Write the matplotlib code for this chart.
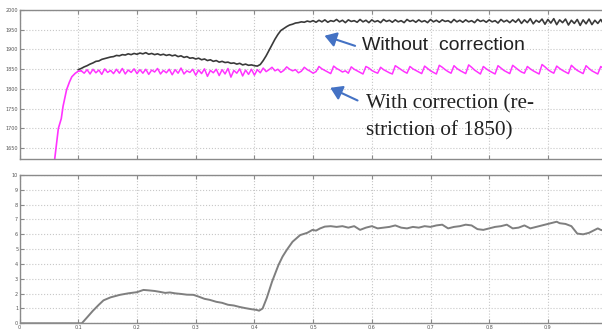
import numpy as np
import matplotlib
matplotlib.use("Agg")
import matplotlib.pyplot as plt

# ---- top panel: speed with / without correction ----
rise_t = [0.058, 0.066, 0.071, 0.074, 0.080, 0.085, 0.089, 0.095, 0.100, 0.105]
rise_v = [1600, 1700, 1725, 1756, 1798, 1818, 1831, 1840, 1845, 1846]

with_t0 = 0.105
with_corr = [
    1846, 1840, 1849, 1838, 1850, 1841, 1848, 1837, 1851, 1842,
    1847, 1839, 1850, 1840, 1852, 1838, 1848, 1842, 1851, 1839,
    1849, 1840, 1850, 1837, 1848, 1843, 1852, 1838, 1847, 1841,
    1850, 1836, 1849, 1840, 1853, 1838, 1846, 1842, 1850, 1835,
    1848, 1839, 1851, 1832, 1847, 1841, 1850, 1834, 1849, 1838,
    1852, 1830, 1847, 1840, 1851, 1833, 1848, 1837, 1850, 1835,
    1849, 1841, 1853, 1844, 1849, 1855, 1846, 1850, 1842, 1847,
    1856, 1850, 1846, 1849, 1841, 1845, 1855, 1849, 1845, 1840,
    1844, 1857, 1851, 1847, 1843, 1839, 1858, 1852, 1848, 1843,
    1846, 1840, 1856, 1850, 1846, 1842, 1838, 1857, 1853, 1847,
    1843, 1840, 1855, 1849, 1845, 1841, 1838, 1859, 1854, 1849,
    1844, 1840, 1857, 1851, 1847, 1843, 1839, 1858, 1852, 1846,
    1842, 1838, 1860, 1855, 1849, 1844, 1840, 1859, 1852, 1847,
    1843, 1839, 1861, 1855, 1848, 1843, 1838, 1857, 1851, 1846,
    1842, 1838, 1859, 1853, 1847, 1843, 1839, 1860, 1854, 1848,
    1843, 1840, 1857, 1851, 1846, 1842, 1838, 1862, 1856, 1849,
    1844, 1840, 1858, 1852, 1847, 1843, 1839, 1860, 1853, 1847,
    1843, 1839, 1859, 1852, 1846, 1842, 1838, 1857, 1851, 1846,
]

without_t0 = 0.100
without_corr = [
    1849, 1852, 1856, 1859, 1863, 1866, 1870, 1871, 1875, 1877,
    1879, 1881, 1882, 1885, 1884, 1887, 1886, 1889, 1887, 1890,
    1888, 1891, 1889, 1892, 1888, 1890, 1887, 1889, 1886, 1888,
    1885, 1887, 1884, 1886, 1882, 1884, 1880, 1882, 1878, 1879,
    1876, 1878, 1874, 1876, 1872, 1874, 1870, 1872, 1868, 1870,
    1867, 1868, 1865, 1866, 1863, 1865, 1861, 1863, 1860, 1861,
    1859, 1858, 1862, 1872, 1884, 1898, 1912, 1926, 1938, 1948,
    1953, 1958, 1962, 1964, 1967, 1968, 1970, 1969, 1972, 1970,
    1973, 1969, 1974, 1970, 1975, 1969, 1973, 1971, 1976, 1970,
    1974, 1968, 1975, 1971, 1973, 1969, 1976, 1970, 1974, 1968,
    1975, 1970, 1973, 1968, 1976, 1971, 1974, 1969, 1975, 1970,
    1973, 1968, 1976, 1971, 1974, 1969, 1975, 1970, 1973, 1968,
    1976, 1970, 1974, 1969, 1975, 1971, 1973, 1968, 1976, 1970,
    1974, 1969, 1975, 1970, 1973, 1968, 1976, 1971, 1974, 1969,
    1975, 1970, 1973, 1967, 1976, 1970, 1974, 1968, 1975, 1969,
    1977, 1966, 1975, 1968, 1978, 1965, 1974, 1969, 1977, 1964,
    1976, 1967, 1978, 1963, 1975, 1968, 1977, 1962, 1974, 1966,
    1976, 1961, 1975, 1965, 1977, 1963, 1974, 1966, 1976, 1964,
    1972,
]

# ---- bottom panel ----
low_t = [0, 0.106, 0.115, 0.125, 0.135, 0.143, 0.155, 0.171, 0.185, 0.2,
         0.211, 0.22, 0.23, 0.239, 0.248, 0.256, 0.265, 0.275, 0.285, 0.296,
         0.305, 0.315, 0.324, 0.335, 0.345, 0.355, 0.365, 0.375, 0.385, 0.395,
         0.404, 0.408, 0.414, 0.421, 0.43, 0.441, 0.448, 0.455, 0.465, 0.478,
         0.49, 0.499, 0.505, 0.512, 0.52, 0.53, 0.54, 0.55, 0.56, 0.57,
         0.58, 0.59, 0.60, 0.61, 0.62, 0.63, 0.64, 0.65, 0.66, 0.67,
         0.68, 0.69, 0.70, 0.71, 0.72, 0.73, 0.74, 0.75, 0.76, 0.77,
         0.78, 0.79, 0.80, 0.81, 0.82, 0.83, 0.84, 0.85, 0.86, 0.87,
         0.88, 0.89, 0.90, 0.91, 0.915, 0.92, 0.93, 0.94, 0.95, 0.96,
         0.97, 0.98, 0.985, 0.99, 1.0]
low_v = [0, 0, 0.4, 0.85, 1.25, 1.55, 1.75, 1.92, 2.02, 2.1,
         2.25, 2.22, 2.18, 2.12, 2.05, 2.08, 2.02, 1.98, 1.93, 1.92,
         1.8, 1.65, 1.58, 1.45, 1.38, 1.25, 1.2, 1.1, 1.02, 0.95,
         0.9, 0.85, 1.0, 1.7, 2.8, 3.93, 4.5, 4.94, 5.5, 5.95,
         6.1, 6.3, 6.25, 6.4, 6.52, 6.55, 6.5, 6.55, 6.45, 6.55,
         6.3, 6.45, 6.55, 6.4, 6.45, 6.5, 6.6, 6.45, 6.4, 6.5,
         6.45, 6.55, 6.5, 6.6, 6.65, 6.4, 6.5, 6.55, 6.65, 6.6,
         6.35, 6.3, 6.4, 6.5, 6.55, 6.65, 6.4, 6.45, 6.6, 6.4,
         6.5, 6.6, 6.7, 6.8, 6.85, 6.75, 6.7, 6.55, 6.05, 6.0,
         6.1, 6.3, 6.4, 6.3, 6.2]
low_ticklabels = ["0", "0.1", "0.2", "0.3", "0.4", "0.5", "0.6", "0.7", "0.8", "0.9", ""]

GRID = "#c8c8c8"
SPINE = "#8a8a8a"
TICKLAB = "#555555"


def style(ax):
    ax.set_xlim(0, 1)
    ax.set_xticks(np.arange(0, 1.01, 0.1))
    ax.grid(True, color=GRID, linestyle=":", lw=0.8)
    ax.tick_params(direction="in", length=3, top=True, right=True,
                   colors=SPINE, labelcolor=TICKLAB, labelsize=3.5, pad=1)
    for s in ax.spines.values():
        s.set_color(SPINE)
        s.set_linewidth(1.0)


fig = plt.figure(figsize=(6.02, 3.31), dpi=100)
W, H = 602.0, 331.0
x0, x1 = 19.6, 606.6

ax1 = fig.add_axes([x0 / W, (H - 159.3) / H, (x1 - x0) / W, (159.3 - 10) / H])
style(ax1)
ax1.set_ylim(1622, 2000)
ax1.set_yticks(np.arange(1650, 2001, 50))
ax1.set_xticklabels([])

t_with = with_t0 + 0.005 * np.arange(len(with_corr))
t_without = without_t0 + 0.005 * np.arange(len(without_corr))
ax1.plot(t_without, without_corr, color="#3a3a3a", lw=1.2)
ax1.plot(rise_t, rise_v, color="#ff33ff", lw=1.2)
ax1.plot(t_with, with_corr, color="#ff33ff", lw=1.1)

arrow = dict(arrowstyle="-|>,head_length=0.7,head_width=0.45", color="#4472c4", lw=1.5)
ax1.annotate("", xy=(0.515, 1937), xytext=(0.576, 1907), arrowprops=arrow)
ax1.annotate("", xy=(0.525, 1806), xytext=(0.58, 1768), arrowprops=arrow)
ax1.text(0.583, 1909, "Without  correction", family="Liberation Sans",
         fontsize=14, color="#222222", va="center", ha="left")
ax1.text(0.59, 1763, "With correction (re-", family="Liberation Serif",
         fontsize=15.2, color="#222222", va="center", ha="left")
ax1.text(0.59, 1693, "striction of 1850)", family="Liberation Serif",
         fontsize=15.2, color="#222222", va="center", ha="left")

ax2 = fig.add_axes([x0 / W, (H - 323.3) / H, (x1 - x0) / W, (323.3 - 175) / H])
style(ax2)
ax2.set_ylim(0, 10)
ax2.set_yticks(range(0, 11))
ax2.set_xticklabels(low_ticklabels)
ax2.plot(low_t, low_v, color="#7f7f7f", lw=1.4)

fig.savefig("out.png", dpi=100)
